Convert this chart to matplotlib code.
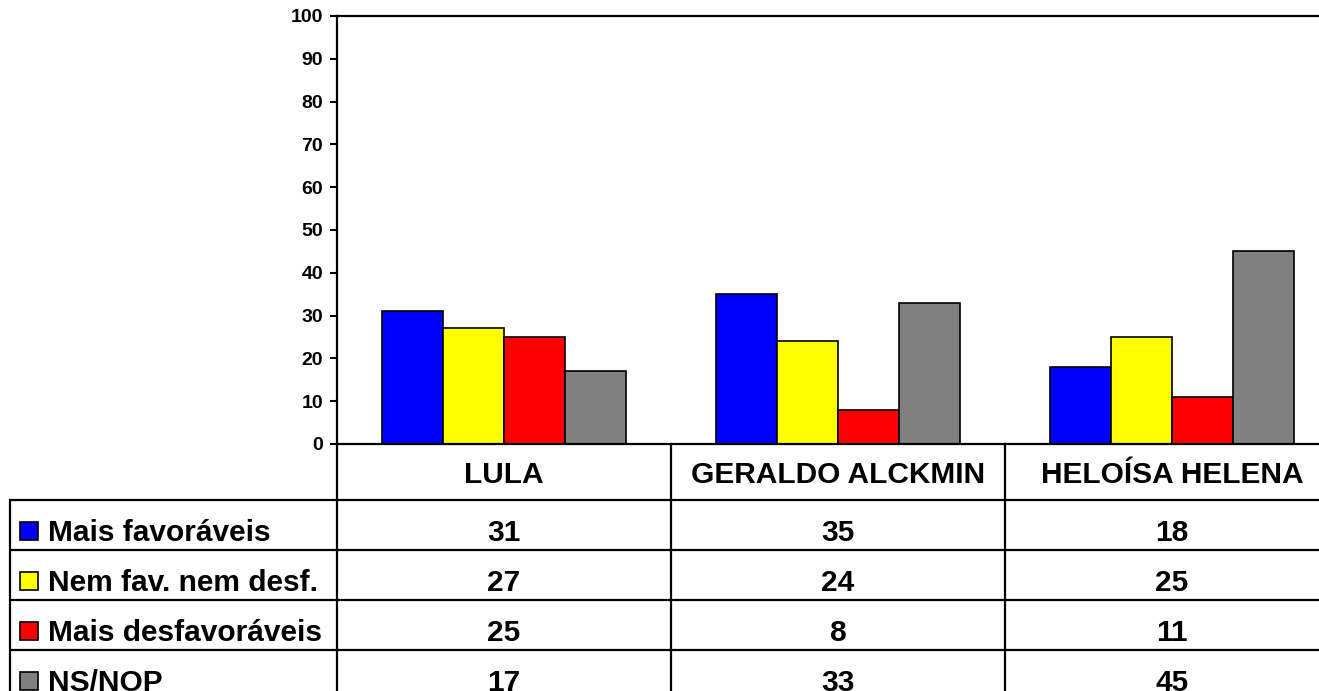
import numpy as np
import matplotlib
matplotlib.use("Agg")
import matplotlib.pyplot as plt
from matplotlib.patches import Rectangle

plt.rcParams['font.family'] = ['Liberation Sans', 'DejaVu Sans']
plt.rcParams['font.weight'] = 'bold'

# ---------------- data ----------------
candidates = ['LULA', 'GERALDO ALCKMIN', 'HELOÍSA HELENA']
series_names = ['Mais favoráveis', 'Nem fav. nem desf.', 'Mais desfavoráveis', 'NS/NOP']
mais_fav = [31, 35, 18]
nem_fav = [27, 24, 25]
mais_desf = [25, 8, 11]
ns_nop = [17, 33, 45]
series_values = [mais_fav, nem_fav, mais_desf, ns_nop]
series_colors = ['#0000FF', '#FFFF00', '#FF0000', '#808080']

# ---------------- layout (pixels) ----------------
W, H = 1319, 691
ax_left, ax_right = 337, 1339      # right edge runs past the picture
ax_top, ax_bottom = 16, 444
col_w = (ax_right - ax_left) / len(candidates)
header_bottom = 500
row_h = 50
leg_left = 10

fig = plt.figure(figsize=(W / 100, H / 100), dpi=100)
ax = fig.add_axes([ax_left / W, (H - ax_bottom) / H,
                   (ax_right - ax_left) / W, (ax_bottom - ax_top) / H])

x = np.arange(len(candidates))
bar_w = 0.182
for j, (vals, col) in enumerate(zip(series_values, series_colors)):
    ax.bar(x + (j - 1.5) * bar_w, vals, bar_w, color=col,
           edgecolor='black', linewidth=1.2)

ax.set_xlim(-0.5, len(candidates) - 0.5)
ax.set_ylim(0, 100)
ax.set_yticks(np.arange(0, 101, 10))
ax.set_xticks([])
ax.tick_params(axis='y', direction='out', length=5, width=1.5, pad=5,
               labelsize=14)
for lab in ax.get_yticklabels():
    lab.set_fontweight('bold')
for s in ['left', 'top', 'bottom']:
    ax.spines[s].set_linewidth(1.6)
ax.spines['right'].set_visible(False)

# ---------------- data table below the chart ----------------
tab = fig.add_axes([0, 0, 1, 1])
tab.set_xlim(0, W)
tab.set_ylim(H, 0)
tab.axis('off')
tab.patch.set_visible(False)

lw = 1.6
n_rows = len(series_names)
table_bottom = header_bottom + row_h * n_rows

# horizontal lines
for i in range(n_rows):
    yl = header_bottom + i * row_h
    tab.plot([leg_left, W + 30], [yl, yl], color='black', lw=lw,
             solid_capstyle='butt')
# vertical lines
tab.plot([leg_left, leg_left], [header_bottom, table_bottom], color='black', lw=lw)
for k in range(len(candidates) + 1):
    xl = ax_left + k * col_w
    tab.plot([xl, xl], [ax_bottom, table_bottom], color='black', lw=lw)

fs = 21.5
# header row
for k, name in enumerate(candidates):
    tab.text(ax_left + (k + 0.5) * col_w, ax_bottom + 39, name,
             ha='center', va='baseline', fontsize=fs, fontweight='bold')

# data rows
for i, (name, vals, col) in enumerate(zip(series_names, series_values, series_colors)):
    top = header_bottom + i * row_h
    tab.add_patch(Rectangle((20, top + 22), 18, 18, facecolor=col,
                            edgecolor='black', linewidth=1.2))
    tab.text(48, top + 41, name, ha='left', va='baseline',
             fontsize=fs, fontweight='bold')
    for k, v in enumerate(vals):
        tab.text(ax_left + (k + 0.5) * col_w, top + 41, str(v),
                 ha='center', va='baseline', fontsize=fs, fontweight='bold')

fig.savefig('out.png', dpi=100)
